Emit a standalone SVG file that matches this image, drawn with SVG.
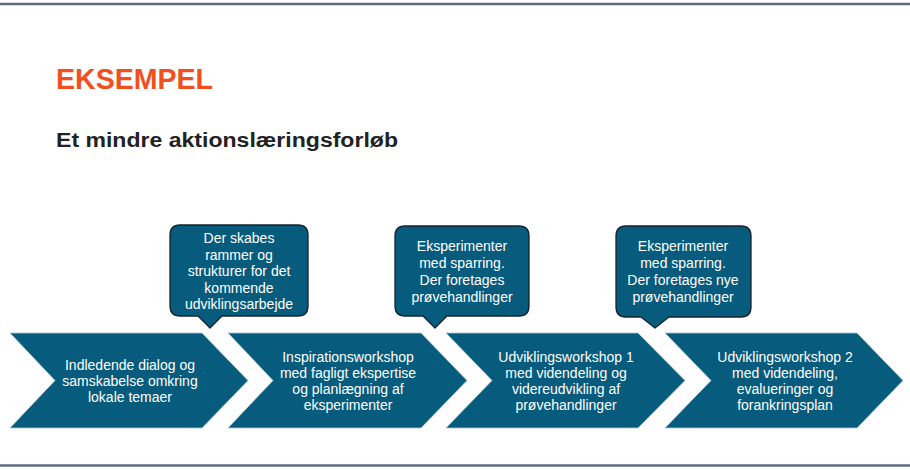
<svg xmlns="http://www.w3.org/2000/svg" width="910" height="470" viewBox="0 0 910 470">
<style>
.rule{stroke:#5d6b80;stroke-width:2.5}
.chev{fill:#075b7c;stroke:#a9c6d6;stroke-width:0.8}
.call{fill:#075b7c;stroke:#14232f;stroke-width:1.3;stroke-linejoin:round}
.t{font-family:"Liberation Sans",Arial,sans-serif;fill:#ffffff;text-anchor:middle}
.ct{font-size:14px}
.bt{font-size:14px}
</style>
<rect width="910" height="470" fill="#ffffff"/>
<line class="rule" x1="0" y1="4" x2="910" y2="4"/>
<line class="rule" x1="0" y1="465.5" x2="910" y2="465.5"/>
<text x="56" y="89" font-family="Liberation Sans,Arial,sans-serif" font-weight="bold" font-size="29.5" fill="#f24f1f" textLength="157" lengthAdjust="spacingAndGlyphs">EKSEMPEL</text>
<text x="56" y="147" font-family="Liberation Sans,Arial,sans-serif" font-weight="bold" font-size="20" fill="#222222" textLength="342" lengthAdjust="spacingAndGlyphs">Et mindre aktionslæringsforløb</text>

<g id="step1">
<polygon class="chev" points="10,333 202,333 248,380.5 202,428 10,428 55,380.5"/>
<text class="t ct" x="130"><tspan x="130" y="370">Indledende dialog og</tspan><tspan x="130" y="386">samskabelse omkring</tspan><tspan x="130" y="402">lokale temaer</tspan></text>
</g>
<g id="step2">
<polygon class="chev" points="228,333 421,333 467,380.5 421,428 228,428 273,380.5"/>
<text class="t ct" x="348"><tspan x="348" y="362">Inspirationsworkshop</tspan><tspan x="348" y="378">med fagligt ekspertise</tspan><tspan x="348" y="394">og planlægning af</tspan><tspan x="348" y="410">eksperimenter</tspan></text>
</g>
<g id="step3">
<polygon class="chev" points="446,333 638,333 685,380.5 638,428 446,428 492,380.5"/>
<text class="t ct" x="566"><tspan x="566" y="362">Udviklingsworkshop 1</tspan><tspan x="566" y="378">med videndeling og</tspan><tspan x="566" y="394">videreudvikling af</tspan><tspan x="566" y="410">prøvehandlinger</tspan></text>
</g>
<g id="step4">
<polygon class="chev" points="665,333 857,333 903,380.5 857,428 665,428 711,380.5"/>
<text class="t ct" x="785"><tspan x="785" y="362">Udviklingsworkshop 2</tspan><tspan x="785" y="378">med videndeling,</tspan><tspan x="785" y="394">evalueringer og</tspan><tspan x="785" y="410">forankringsplan</tspan></text>
</g>

<g id="callout1">
<path class="call" d="M180,225 H298 Q308,225 308,235 V306 Q308,316 298,316 H222 L210,328 L198,316 H180 Q170,316 170,306 V235 Q170,225 180,225 Z"/>
<text class="t bt" x="239"><tspan x="239" y="243">Der skabes</tspan><tspan x="239" y="259.5">rammer og</tspan><tspan x="239" y="276">strukturer for det</tspan><tspan x="239" y="292.5">kommende</tspan><tspan x="239" y="309">udviklingsarbejde</tspan></text>
</g>
<g id="callout2">
<path class="call" d="M405,226 H519 Q529,226 529,236 V306 Q529,316 519,316 H447 L435,328 L423,316 H405 Q395,316 395,306 V236 Q395,226 405,226 Z"/>
<text class="t bt" x="462"><tspan x="462" y="251">Eksperimenter</tspan><tspan x="462" y="267.5">med sparring.</tspan><tspan x="462" y="284.5">Der foretages</tspan><tspan x="462" y="301.5">prøvehandlinger</tspan></text>
</g>
<g id="callout3">
<path class="call" d="M626,226 H741 Q751,226 751,236 V307 Q751,317 741,317 H669 L655,328 L641,317 H626 Q616,317 616,307 V236 Q616,226 626,226 Z"/>
<text class="t bt" x="683"><tspan x="683" y="251">Eksperimenter</tspan><tspan x="683" y="267.5">med sparring.</tspan><tspan x="683" y="284.5">Der foretages nye</tspan><tspan x="683" y="301.5">prøvehandlinger</tspan></text>
</g>
<g id="connectors"></g>
</svg>
